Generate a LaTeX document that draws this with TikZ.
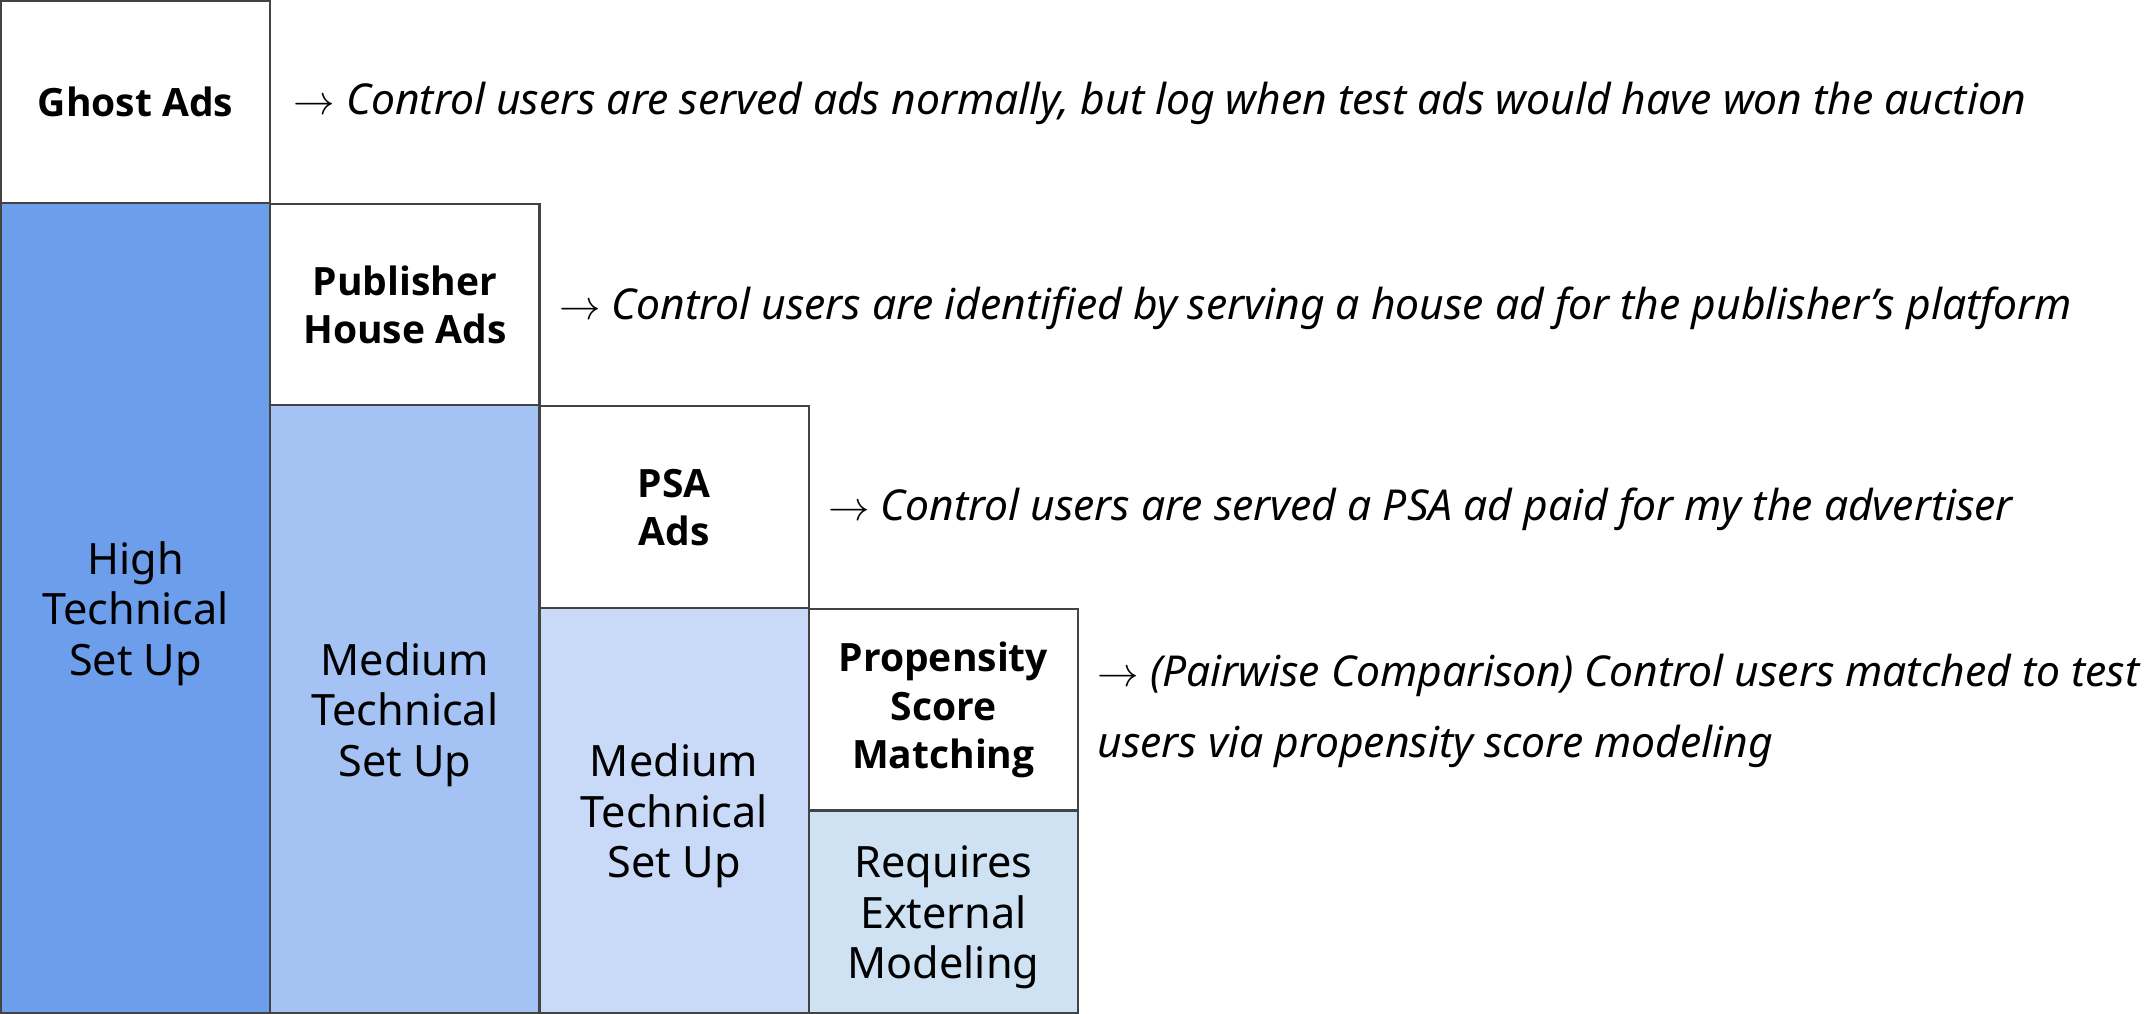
\documentclass[tikz,border=0pt]{standalone}
\usepackage{fontspec}
\setmainfont{Noto Sans}
\newfontfamily\headfont{Open Sans}
\definecolor{edgegray}{HTML}{434343}
\definecolor{highblue}{HTML}{6D9EEB}
\definecolor{medblue}{HTML}{A4C2F4}
\definecolor{paleblue}{HTML}{C9DAF8}
\definecolor{extblue}{HTML}{CFE2F3}
\begin{document}
\begin{tikzpicture}[x=0.5pt,y=-0.5pt,
  cell/.style={draw=edgegray, line width=1.1pt, inner sep=0pt,
    minimum width=134.6pt, minimum height=#1*101.3pt, align=center},
  cell/.default=1,
  headtxt/.style={font=\headfont\bfseries\fontsize{19.5}{24.2}\selectfont, fill=white},
  lowered/.style={label={[font=\fontsize{21.6}{25.3}\selectfont, align=center, yshift=-2.8pt]center:#1}},
  desc/.style={anchor=west, inner sep=0pt, align=left,
    font=\itshape\fontsize{21.3}{35.5}\selectfont}]
\useasboundingbox (0,0) rectangle (2149,1013);

% column 1: ghost ads
\node[cell, headtxt] (ghost) at (135.6,102.3) {Ghost Ads};
\node[cell=4, fill=highblue, lowered={High\\Technical\\Set Up}] (high) at (135.6,607.8) {};

% column 2: publisher house ads
\node[cell, headtxt] (house) at (404.9,304.9) {Publisher\\House Ads};
\node[cell=3, fill=medblue, lowered={Medium\\Technical\\Set Up}] (med1) at (404.9,709.1) {};

% column 3: PSA ads
\node[cell, headtxt] (psa) at (674.1,507.5) {PSA\\Ads};
\node[cell=2, fill=paleblue, lowered={Medium\\Technical\\Set Up}] (med2) at (674.1,810.4) {};

% column 4: propensity score matching
\node[cell, headtxt] (psm) at (943.4,710.1) {Propensity\\Score\\Matching};
\node[cell, fill=extblue, lowered={Requires\\External\\Modeling}] (ext) at (943.4,911.7) {};

% descriptions to the right of each heading
\node[desc] (dghost) at ([xshift=11pt,yshift=-0.5pt]ghost.east) {$\rightarrow$ Control users are served ads normally, but log when test ads would have won the auction};
\node[desc] (dhouse) at ([xshift=9pt,yshift=-1.5pt]house.east) {$\rightarrow$ Control users are identified by serving a house ad for the publisher’s platform};
\node[desc] (dpsa) at ([xshift=9pt,yshift=-1pt]psa.east) {$\rightarrow$ Control users are served a PSA ad paid for my the advertiser};
\node[desc] (dpsm) at ([xshift=9pt,yshift=-0.5pt]psm.east) {$\rightarrow$ (Pairwise Comparison) Control users matched to test\\users via propensity score modeling};
\end{tikzpicture}
\end{document}
